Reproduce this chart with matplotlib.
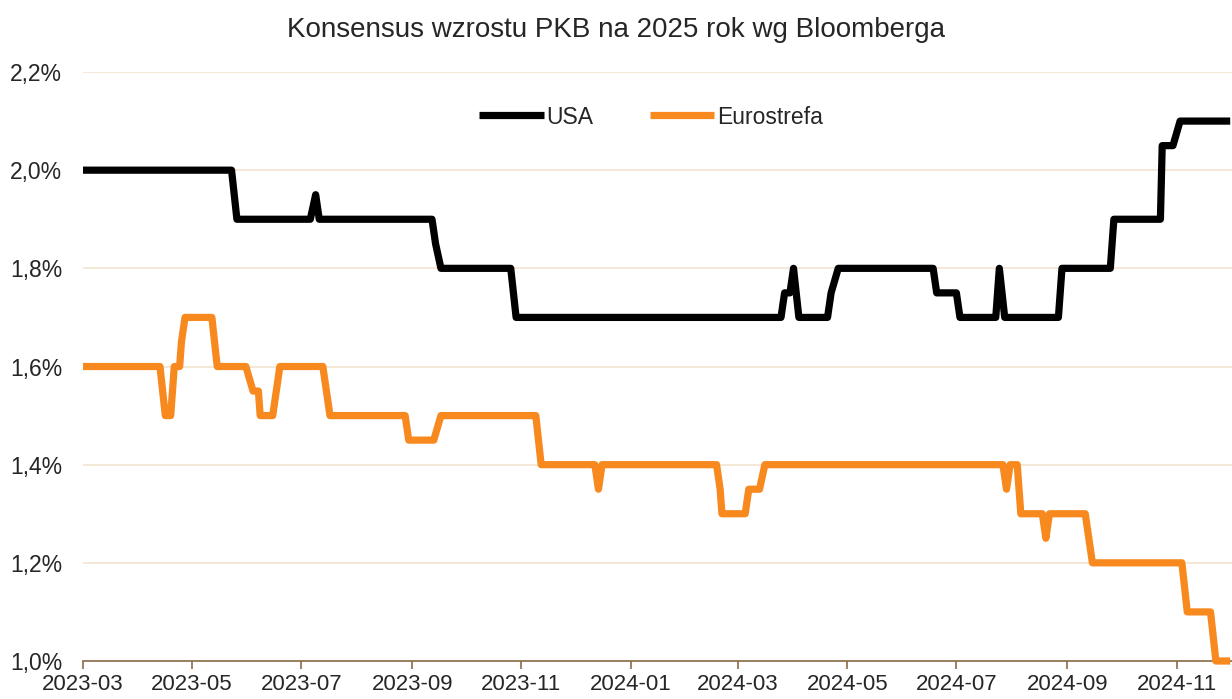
import matplotlib
matplotlib.use("Agg")
import matplotlib.pyplot as plt
import matplotlib.dates as mdates
from matplotlib.ticker import FuncFormatter, MultipleLocator
import pandas as pd

plt.rcParams['font.family'] = ['Liberation Sans', 'DejaVu Sans']

title = "Konsensus wzrostu PKB na 2025 rok wg Bloomberga"

usa_dates = ["2023-03-01", "2023-05-23", "2023-05-26", "2023-07-06", "2023-07-09", "2023-07-11",
             "2023-09-12", "2023-09-14", "2023-09-17", "2023-10-26", "2023-10-29",
             "2024-03-25", "2024-03-27", "2024-03-30", "2024-04-01", "2024-04-04",
             "2024-04-20", "2024-04-22", "2024-04-26", "2024-06-18", "2024-06-20",
             "2024-07-01", "2024-07-03", "2024-07-23", "2024-07-25", "2024-07-28",
             "2024-08-27", "2024-08-29", "2024-09-25", "2024-09-27", "2024-10-23",
             "2024-10-24", "2024-10-30", "2024-11-03", "2024-12-01"]
usa_values = [2.0, 2.0, 1.9, 1.9, 1.95, 1.9,
              1.9, 1.85, 1.8, 1.8, 1.7,
              1.7, 1.75, 1.75, 1.8, 1.7,
              1.7, 1.75, 1.8, 1.8, 1.75,
              1.75, 1.7, 1.7, 1.8, 1.7,
              1.7, 1.8, 1.8, 1.9, 1.9,
              2.05, 2.05, 2.1, 2.1]

ez_dates = ["2023-03-01", "2023-04-13", "2023-04-16", "2023-04-19", "2023-04-21", "2023-04-24",
            "2023-04-25", "2023-04-27", "2023-05-12", "2023-05-15", "2023-05-31", "2023-06-04",
            "2023-06-07", "2023-06-08", "2023-06-15", "2023-06-19", "2023-07-13", "2023-07-17",
            "2023-08-28", "2023-08-30", "2023-09-13", "2023-09-17", "2023-11-09", "2023-11-12",
            "2023-12-12", "2023-12-14", "2023-12-16", "2024-02-18", "2024-02-20", "2024-02-21",
            "2024-03-05", "2024-03-07", "2024-03-13", "2024-03-16", "2024-07-27", "2024-07-29",
            "2024-07-31", "2024-08-04", "2024-08-05", "2024-08-06", "2024-08-18", "2024-08-20",
            "2024-08-22", "2024-09-11", "2024-09-15", "2024-11-04", "2024-11-07", "2024-11-20",
            "2024-11-23", "2024-12-01"]
ez_values = [1.6, 1.6, 1.5, 1.5, 1.6, 1.6,
             1.65, 1.7, 1.7, 1.6, 1.6, 1.55,
             1.55, 1.5, 1.5, 1.6, 1.6, 1.5,
             1.5, 1.45, 1.45, 1.5, 1.5, 1.4,
             1.4, 1.35, 1.4, 1.4, 1.35, 1.3,
             1.3, 1.35, 1.35, 1.4, 1.4, 1.35,
             1.4, 1.4, 1.35, 1.3, 1.3, 1.25,
             1.3, 1.3, 1.2, 1.2, 1.1, 1.1,
             1.0, 1.0]

series_names = ["USA", "Eurostrefa"]
series_colors = ["#000000", "#F7891F"]

W, H = 1232, 699
fig = plt.figure(figsize=(W / 100, H / 100), dpi=100)
ax = fig.add_axes([83 / W, (H - 661) / H, (W - 83) / W, (661 - 72) / H])

ax.plot(pd.to_datetime(usa_dates), usa_values, color=series_colors[0], lw=5.2,
        solid_joinstyle='round', solid_capstyle='butt', label=series_names[0],
        zorder=3, clip_on=False)
ax.plot(pd.to_datetime(ez_dates), ez_values, color=series_colors[1], lw=5.2,
        solid_joinstyle='round', solid_capstyle='butt', label=series_names[1],
        zorder=3, clip_on=False)

ax.set_xlim(pd.Timestamp("2023-03-01"), pd.Timestamp("2024-12-02"))
ax.set_ylim(1.0, 2.2)
ax.yaxis.set_major_locator(MultipleLocator(0.2))
ax.yaxis.set_major_formatter(FuncFormatter(lambda v, p: f"{v:.1f}".replace(".", ",") + "%"))
ax.xaxis.set_major_locator(mdates.MonthLocator(bymonth=[1, 3, 5, 7, 9, 11]))
ax.xaxis.set_major_formatter(mdates.DateFormatter("%Y-%m"))

ax.grid(axis='y', color='#F5E4CF', lw=1.2, zorder=0)
for s in ['top', 'right', 'left']:
    ax.spines[s].set_visible(False)
ax.spines['bottom'].set_color('#8B6B4A')
ax.spines['bottom'].set_linewidth(1.2)
ax.tick_params(axis='y', length=0, pad=15, labelsize=16.5, labelcolor='#262626')
ax.tick_params(axis='x', length=6, width=1.2, color='#8B6B4A', pad=3, labelsize=16,
               labelcolor='#262626')

fig.text(0.5, 1 - 30 / H, title, ha='center', va='center', fontsize=20, color='#262626')

leg = ax.legend(loc='center', bbox_to_anchor=(651 / W, 1 - 117 / H),
                bbox_transform=fig.transFigure, ncol=2, frameon=False, fontsize=16.5,
                handlelength=2.8, handletextpad=0.1, columnspacing=2.5)
for t in leg.get_texts():
    t.set_color('#262626')

fig.savefig("out.png", dpi=100)
